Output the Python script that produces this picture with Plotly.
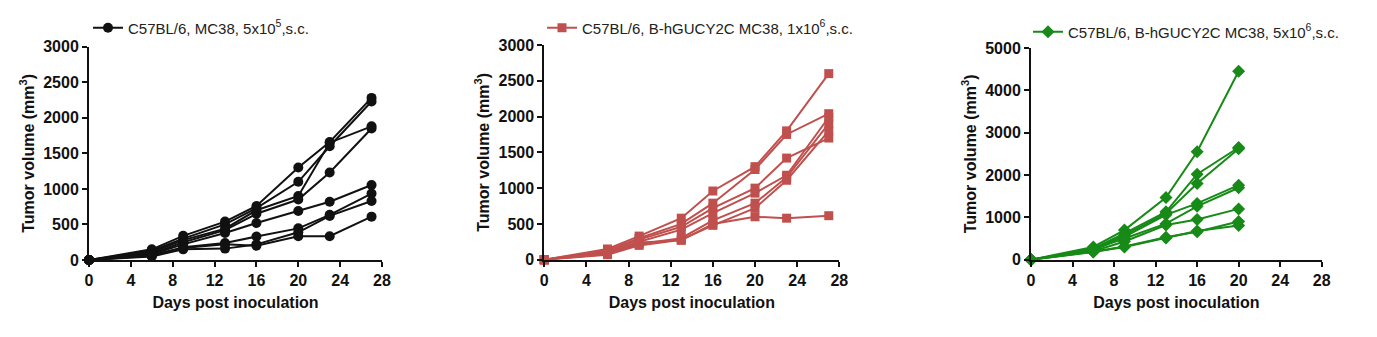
import plotly.graph_objects as go

# ---------------- data ----------------
days_long = [0, 6, 9, 13, 16, 20, 23, 27]
days_short = [0, 6, 9, 13, 16, 20]

x_ticks = [0, 4, 8, 12, 16, 20, 24, 28]
y_ticks_3000 = [0, 500, 1000, 1500, 2000, 2500, 3000]
y_ticks_5000 = [0, 1000, 2000, 3000, 4000, 5000]

label_black = "C57BL/6, MC38, 5x10<sup>5</sup>,s.c."
label_red = "C57BL/6, B-hGUCY2C MC38, 1x10<sup>6</sup>,s.c."
label_green = "C57BL/6, B-hGUCY2C MC38, 5x10<sup>6</sup>,s.c."

# C57BL/6, MC38, 5x10^5 (8 mice)
black_mice = [
    [0, 150, 340, 540, 760, 1300, 1660, 2280],
    [0, 130, 300, 500, 730, 1100, 1600, 2230],
    [0, 110, 280, 440, 700, 900, 1650, 1880],
    [0, 90, 250, 420, 650, 850, 1230, 1850],
    [0, 80, 220, 380, 520, 690, 820, 1055],
    [0, 60, 180, 240, 330, 445, 635, 935],
    [0, 50, 150, 160, 220, 390, 620, 830],
    [0, 70, 170, 220, 200, 335, 335, 610],
]

# C57BL/6, B-hGUCY2C MC38, 1x10^6 (7 mice)
red_mice = [
    [0, 150, 330, 580, 960, 1300, 1800, 2600],
    [0, 130, 300, 500, 790, 1260, 1750, 2040],
    [0, 110, 280, 460, 720, 1000, 1420, 1700],
    [0, 100, 250, 420, 650, 930, 1180, 1990],
    [0, 90, 220, 300, 550, 790, 1150, 1900],
    [0, 70, 200, 280, 480, 720, 1110, 1800],
    [0, 80, 240, 270, 500, 600, 580, 615],
]

# C57BL/6, B-hGUCY2C MC38, 5x10^6 (8 mice)
green_mice = [
    [0, 300, 700, 1470, 2550, 4450],
    [0, 260, 620, 1130, 2020, 2650],
    [0, 240, 580, 1090, 1800, 2620],
    [0, 220, 540, 1060, 1330, 1760],
    [0, 250, 500, 850, 1260, 1700],
    [0, 200, 430, 820, 950, 1200],
    [0, 190, 310, 530, 660, 900],
    [0, 180, 300, 510, 680, 810],
]

# ---------------- styling ----------------
BLACK = "#111111"
RED = "#C0504D"
GREEN = "#178A17"
FONT = "Liberation Sans, Arial, sans-serif"

W, H = 1377, 337


def px_x(a, b):
    return [a / W, b / W]


def px_y(top, bottom):
    return [(H - bottom) / H, (H - top) / H]


fig = go.Figure()

panels = [
    (black_mice, days_long, BLACK, "circle", 10, label_black, "x", "y", "legend"),
    (red_mice, days_long, RED, "square", 9, label_red, "x2", "y2", "legend2"),
    (green_mice, days_short, GREEN, "diamond", 10, label_green, "x3", "y3", "legend3"),
]

for mice, days, color, symbol, msize, label, xa, ya, lg in panels:
    for i, vals in enumerate(mice):
        fig.add_trace(go.Scatter(
            x=days, y=vals, mode="lines+markers",
            line=dict(color=color, width=2),
            marker=dict(color=color, symbol=symbol, size=msize),
            name=label, showlegend=(i == 0), legend=lg,
            xaxis=xa, yaxis=ya, cliponaxis=False,
        ))

tickfont = dict(family=FONT, size=16, color="#111111", weight="bold")
titlefont = dict(family=FONT, size=16, color="#111111", weight="bold")


def xaxis(domain, anchor):
    return dict(
        domain=domain, anchor=anchor, range=[0, 28], tickvals=x_ticks,
        ticks="outside", ticklen=5, tickwidth=2, tickcolor="#111111",
        showline=True, linewidth=2, linecolor="#111111",
        showgrid=False, zeroline=False, tickfont=tickfont,
        title=dict(text="Days post inoculation", font=titlefont, standoff=9),
        automargin=False,
    )


def yaxis(domain, anchor, top, ticks):
    return dict(
        domain=domain, anchor=anchor, range=[0, top], tickvals=ticks,
        ticks="outside", ticklen=5, tickwidth=2, tickcolor="#111111",
        showline=True, linewidth=2, linecolor="#111111",
        showgrid=False, zeroline=False, tickfont=tickfont,
        title=dict(text="Tumor volume (mm<sup>3</sup>)", font=titlefont, standoff=5),
        automargin=False,
    )


legfont = dict(family=FONT, size=15, color="#222222")

fig.update_layout(
    width=W, height=H,
    margin=dict(l=0, r=0, t=0, b=0),
    paper_bgcolor="white", plot_bgcolor="white",
    xaxis=xaxis(px_x(89, 382), "y"),
    yaxis=yaxis(px_y(46.7, 260), "x", 3000, y_ticks_3000),
    xaxis2=xaxis(px_x(544.3, 839.3), "y2"),
    yaxis2=yaxis(px_y(45, 259.7), "x2", 3000, y_ticks_3000),
    xaxis3=xaxis(px_x(1031, 1321.7), "y3"),
    yaxis3=yaxis(px_y(48, 259.7), "x3", 5000, y_ticks_5000),
    legend=dict(x=(103 - 15) / W, y=(H - 28) / H, xanchor="left", yanchor="middle",
                font=legfont, bgcolor="rgba(0,0,0,0)"),
    legend2=dict(x=(557 - 15) / W, y=(H - 28) / H, xanchor="left", yanchor="middle",
                 font=legfont, bgcolor="rgba(0,0,0,0)"),
    legend3=dict(x=(1043 - 15) / W, y=(H - 32) / H, xanchor="left", yanchor="middle",
                 font=legfont, bgcolor="rgba(0,0,0,0)"),
)

fig.write_html("out.html")
